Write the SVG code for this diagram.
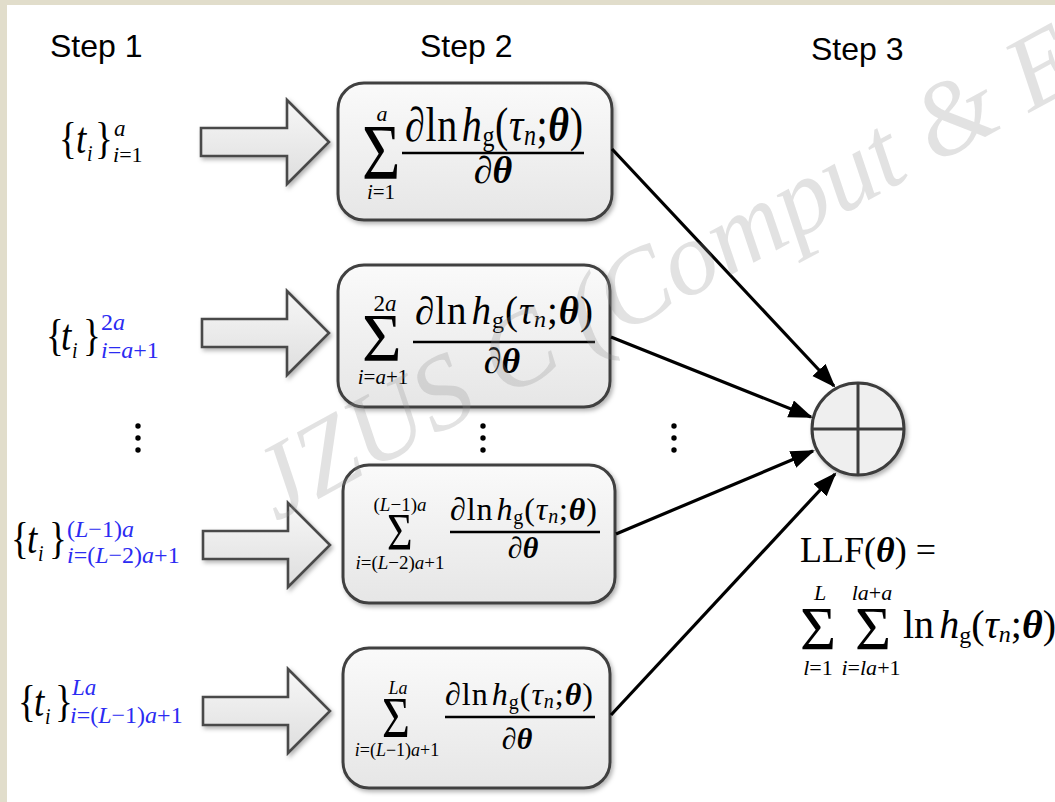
<svg xmlns="http://www.w3.org/2000/svg" width="1055" height="802" viewBox="0 0 1055 802">
  <defs>
    <style>
      .m { font-family: "Liberation Serif", "Times New Roman", serif; fill: #000; }
      .i { font-style: italic; }
      .b { font-style: italic; font-weight: bold; }
      .blue { fill: #2b2bf2; }
      .step { font-family: "Liberation Sans", Arial, sans-serif; font-size: 32px; fill: #000; }
      .box { fill: url(#boxFill); stroke: #404040; stroke-width: 3; filter: url(#shadow); }
      .blk { fill: url(#arrowFill); stroke: #4a4a4a; stroke-width: 2.6; stroke-linejoin: miter; filter: url(#shadow); }
      .bar { stroke: #000; stroke-width: 2.5; }
      .conn { stroke: #000; stroke-width: 3.2; fill: none; marker-end: url(#head); }
      .dot { fill: #000; }
    </style>
    <linearGradient id="boxFill" x1="0" y1="0" x2="0" y2="1">
      <stop offset="0" stop-color="#fafafa"/>
      <stop offset="1" stop-color="#e6e6e6"/>
    </linearGradient>
    <linearGradient id="arrowFill" x1="0" y1="0" x2="0" y2="1">
      <stop offset="0" stop-color="#f7f7f7"/>
      <stop offset="1" stop-color="#dedede"/>
    </linearGradient>
    <filter id="shadow" x="-10%" y="-10%" width="130%" height="130%">
      <feDropShadow dx="2" dy="2.5" stdDeviation="2" flood-color="#000" flood-opacity="0.3"/>
    </filter>
    <marker id="head" markerUnits="userSpaceOnUse" markerWidth="26" markerHeight="20" refX="22" refY="9" orient="auto">
      <path d="M0,0 L24,9 L0,18 Z" fill="#000"/>
    </marker>
  </defs>

  <!-- page and frame -->
  <rect x="0" y="0" width="1055" height="802" fill="#fff"/>
  <rect x="0" y="0" width="1055" height="5" fill="#e1ddcb"/>
  <rect x="0" y="0" width="7" height="802" fill="#e1ddcb"/>

  <!-- column headings -->
  <g id="headings">
    <text class="step" x="50" y="57">Step 1</text>
    <text class="step" x="420" y="57">Step 2</text>
    <text class="step" x="811" y="60">Step 3</text>
  </g>

  <!-- step 1: sample subsets -->
  <g id="subset1">
    <text class="m" y="153" font-size="37" transform="matrix(1 0 0 1.2 0 -30.6)"><tspan x="59">{</tspan><tspan x="76" class="i">t</tspan><tspan x="87" class="i" font-size="20" dy="7">i</tspan><tspan x="95" dy="-7">}</tspan></text>
    <text class="m i" x="114" y="136" font-size="23">a</text>
    <text class="m" x="113" y="162" font-size="22"><tspan class="i">i</tspan>=1</text>
  </g>
  <g id="subset2">
    <text class="m" y="350" font-size="37" transform="matrix(1 0 0 1.2 0 -70)"><tspan x="46">{</tspan><tspan x="61" class="i">t</tspan><tspan x="72" class="i" font-size="20" dy="7">i</tspan><tspan x="83" dy="-7">}</tspan></text>
    <text class="m blue" x="101" y="330" font-size="24">2<tspan class="i">a</tspan></text>
    <text class="m blue" x="101" y="358" font-size="24"><tspan class="i">i</tspan>=<tspan class="i">a</tspan>+1</text>
  </g>
  <g id="subset3">
    <text class="m" y="553" font-size="37" transform="matrix(1 0 0 1.2 0 -110.6)"><tspan x="11">{</tspan><tspan x="27" class="i">t</tspan><tspan x="38" class="i" font-size="20" dy="7">i</tspan><tspan x="49" dy="-7">}</tspan></text>
    <text class="m blue" x="67" y="537" font-size="24">(<tspan class="i">L</tspan>−1)<tspan class="i">a</tspan></text>
    <text class="m blue" x="67" y="563" font-size="24"><tspan class="i">i</tspan>=(<tspan class="i">L</tspan>−2)<tspan class="i">a</tspan>+1</text>
  </g>
  <g id="subset4">
    <text class="m" y="716" font-size="37" transform="matrix(1 0 0 1.2 0 -143.2)"><tspan x="18">{</tspan><tspan x="34" class="i">t</tspan><tspan x="45" class="i" font-size="20" dy="7">i</tspan><tspan x="55" dy="-7">}</tspan></text>
    <text class="m blue i" x="72" y="695" font-size="23">La</text>
    <text class="m blue" x="70" y="723" font-size="24"><tspan class="i">i</tspan>=(<tspan class="i">L</tspan>−1)<tspan class="i">a</tspan>+1</text>
  </g>
  <g id="ellipsis1">
    <circle class="dot" cx="138" cy="426" r="2.7"/>
    <circle class="dot" cx="138" cy="438" r="2.7"/>
    <circle class="dot" cx="138" cy="450" r="2.7"/>
  </g>

  <!-- block arrows feeding step 2 -->
  <g id="feed1"><polygon class="blk" points="201,128 287,128 287,100 329,142 287,184 287,156 201,156"/></g>
  <g id="feed2"><polygon class="blk" points="202,319 287,319 287,291 329,333 287,375 287,347 202,347"/></g>
  <g id="feed3"><polygon class="blk" points="203,531 288,531 288,503 330,545 288,587 288,559 203,559"/></g>
  <g id="feed4"><polygon class="blk" points="203,697 288,697 288,669 330,711 288,753 288,725 203,725"/></g>

  <!-- step 2: partial gradient sums -->
  <g id="sum1">
    <rect class="box" x="338" y="83" width="274" height="137" rx="26"/>
    <text class="m" x="362" y="178" font-size="66" transform="matrix(1 0 0 1.2 0 -35.6)">Σ</text>
    <text class="m i" x="382" y="121" font-size="22" text-anchor="middle">a</text>
    <text class="m" x="381" y="199" font-size="21" text-anchor="middle"><tspan class="i">i</tspan>=1</text>
    <text class="m" x="405" y="141" font-size="40" textLength="178" lengthAdjust="spacing" transform="matrix(1 0 0 1.2 0 -28.2)">∂ln<tspan class="i" dx="4">h</tspan><tspan font-size="24" dy="4">g</tspan><tspan dy="-4">(</tspan><tspan class="i">τ</tspan><tspan class="i" font-size="24" dy="3">n</tspan><tspan dy="-3">;</tspan><tspan class="b">θ</tspan>)</text>
    <line class="bar" x1="402" y1="153" x2="584" y2="153"/>
    <text class="m" x="493" y="183" font-size="38" text-anchor="middle">∂<tspan class="b">θ</tspan></text>
  </g>
  <g id="sum2">
    <rect class="box" x="338" y="265" width="272" height="142" rx="26"/>
    <text class="m" x="362" y="360" font-size="68">Σ</text>
    <text class="m" x="385" y="311" font-size="23" text-anchor="middle">2<tspan class="i">a</tspan></text>
    <text class="m" x="383" y="384" font-size="21" text-anchor="middle"><tspan class="i">i</tspan>=<tspan class="i">a</tspan>+1</text>
    <text class="m" x="415" y="324" font-size="39" textLength="178" lengthAdjust="spacing">∂ln<tspan class="i" dx="4">h</tspan><tspan font-size="24" dy="4">g</tspan><tspan dy="-4">(</tspan><tspan class="i">τ</tspan><tspan class="i" font-size="24" dy="3">n</tspan><tspan dy="-3">;</tspan><tspan class="b">θ</tspan>)</text>
    <line class="bar" x1="413" y1="342" x2="595" y2="342"/>
    <text class="m" x="502" y="373" font-size="36" text-anchor="middle">∂<tspan class="b">θ</tspan></text>
  </g>
  <g id="ellipsis2">
    <circle class="dot" cx="483" cy="426" r="2.7"/>
    <circle class="dot" cx="483" cy="438" r="2.7"/>
    <circle class="dot" cx="483" cy="450" r="2.7"/>
  </g>
  <g id="sum3">
    <rect class="box" x="343" y="465" width="272" height="138" rx="26"/>
    <text class="m" x="387" y="550" font-size="44" transform="matrix(1 0 0 1.2 0 -110)">Σ</text>
    <text class="m" x="400" y="511" font-size="19" text-anchor="middle">(<tspan class="i">L</tspan>−1)<tspan class="i">a</tspan></text>
    <text class="m" x="400" y="569" font-size="19" text-anchor="middle"><tspan class="i">i</tspan>=(<tspan class="i">L</tspan>−2)<tspan class="i">a</tspan>+1</text>
    <text class="m" x="450" y="520" font-size="32" textLength="147" lengthAdjust="spacing">∂ln<tspan class="i" dx="3">h</tspan><tspan font-size="20" dy="4">g</tspan><tspan dy="-4">(</tspan><tspan class="i">τ</tspan><tspan class="i" font-size="20" dy="3">n</tspan><tspan dy="-3">;</tspan><tspan class="b">θ</tspan>)</text>
    <line class="bar" x1="450" y1="532" x2="600" y2="532"/>
    <text class="m" x="523" y="558" font-size="30" text-anchor="middle">∂<tspan class="b">θ</tspan></text>
  </g>
  <g id="sum4">
    <rect class="box" x="343" y="648" width="267" height="140" rx="26"/>
    <text class="m" x="382" y="737" font-size="48" transform="matrix(1 0 0 1.2 0 -147.4)">Σ</text>
    <text class="m i" x="398" y="694" font-size="18" text-anchor="middle">La</text>
    <text class="m" x="397" y="756" font-size="18" text-anchor="middle"><tspan class="i">i</tspan>=(<tspan class="i">L</tspan>−1)<tspan class="i">a</tspan>+1</text>
    <text class="m" x="445" y="705" font-size="32" textLength="148" lengthAdjust="spacing">∂ln<tspan class="i" dx="3">h</tspan><tspan font-size="20" dy="4">g</tspan><tspan dy="-4">(</tspan><tspan class="i">τ</tspan><tspan class="i" font-size="20" dy="3">n</tspan><tspan dy="-3">;</tspan><tspan class="b">θ</tspan>)</text>
    <line class="bar" x1="445" y1="717" x2="595" y2="717"/>
    <text class="m" x="517" y="749" font-size="30" text-anchor="middle">∂<tspan class="b">θ</tspan></text>
  </g>
  <g id="ellipsis3">
    <circle class="dot" cx="674" cy="426" r="2.7"/>
    <circle class="dot" cx="674" cy="438" r="2.7"/>
    <circle class="dot" cx="674" cy="450" r="2.7"/>
  </g>

  <!-- step 3: summation node -->
  <g id="adder">
    <circle cx="858" cy="429" r="46" fill="#efefef" stroke="#3c3c3c" stroke-width="3" filter="url(#shadow)"/>
    <line x1="858" y1="383" x2="858" y2="475" stroke="#3c3c3c" stroke-width="3"/>
    <line x1="812" y1="429" x2="904" y2="429" stroke="#3c3c3c" stroke-width="3"/>
  </g>

  <g id="connectors">
    <line class="conn" x1="612" y1="149" x2="834" y2="386"/>
    <line class="conn" x1="611" y1="337" x2="811" y2="417"/>
    <line class="conn" x1="616" y1="534" x2="813" y2="451"/>
    <line class="conn" x1="611" y1="715" x2="835" y2="474"/>
  </g>

  <!-- log-likelihood result -->
  <g id="result">
    <text class="m" x="800" y="562" font-size="36">LLF(<tspan class="b">θ</tspan>) =</text>
    <text class="m" x="800" y="649" font-size="62">Σ</text>
    <text class="m i" x="820" y="600" font-size="22" text-anchor="middle">L</text>
    <text class="m" x="818" y="675" font-size="22" text-anchor="middle"><tspan class="i">l</tspan>=1</text>
    <text class="m" x="855" y="649" font-size="62">Σ</text>
    <text class="m" x="872" y="600" font-size="22" text-anchor="middle"><tspan class="i">la</tspan>+<tspan class="i">a</tspan></text>
    <text class="m" x="871" y="675" font-size="22" text-anchor="middle"><tspan class="i">i</tspan>=<tspan class="i">la</tspan>+1</text>
    <text class="m" x="903" y="638" font-size="40">ln<tspan class="i" dx="5">h</tspan><tspan font-size="24" dy="5">g</tspan><tspan dy="-5">(</tspan><tspan class="i">τ</tspan><tspan class="i" font-size="24" dy="4">n</tspan><tspan dy="-4">;</tspan><tspan class="b">θ</tspan>)</text>
  </g>

  <!-- journal watermark -->
  <text x="0" y="0" transform="translate(276,522) rotate(-28.5)" font-family="Liberation Serif, serif" font-style="italic" font-size="105" fill="#8c8c8c" fill-opacity="0.25">JZUS C (Comput &amp; E</text>
</svg>
